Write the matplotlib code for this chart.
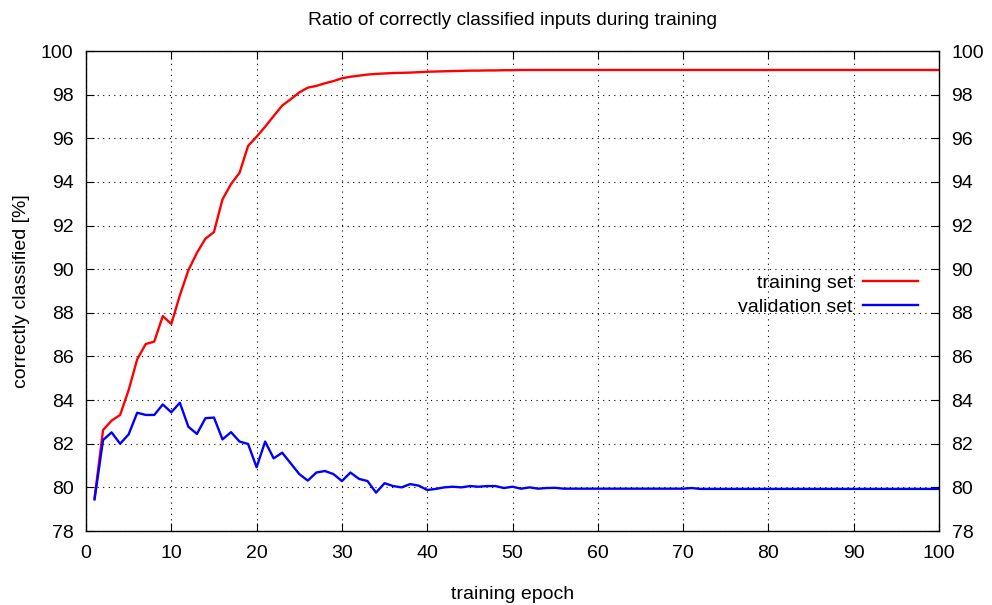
import numpy as np
import matplotlib
matplotlib.use('Agg')
import matplotlib.pyplot as plt

plt.rcParams['font.family'] = ['Liberation Sans', 'DejaVu Sans']

epochs = np.arange(1, 101)

# training set accuracy (%), epochs 1..40
train_head = [79.5, 82.63, 83.06, 83.32, 84.46, 85.87, 86.57, 86.68, 87.85, 87.49,
              88.8, 89.95, 90.75, 91.4, 91.7, 93.2, 93.9, 94.42, 95.65, 96.07,
              96.53, 97.02, 97.5, 97.79, 98.1, 98.32, 98.4, 98.52, 98.62, 98.75,
              98.82, 98.87, 98.92, 98.95, 98.97, 98.99, 99.0, 99.01, 99.03, 99.05]
train_tail = [99.06, 99.07, 99.08, 99.09, 99.1, 99.1, 99.11, 99.11, 99.12, 99.12] + [99.13] * 50
train = train_head + train_tail

# validation set accuracy (%)
valid_head = [79.45, 82.17, 82.52, 82.0, 82.43, 83.42, 83.32, 83.32, 83.8, 83.44,
              83.88, 82.78, 82.45, 83.17, 83.2, 82.2, 82.53, 82.1, 81.99, 80.92,
              82.1, 81.33, 81.59, 81.1, 80.61, 80.31, 80.68, 80.75, 80.61, 80.29,
              80.68, 80.39, 80.29, 79.76, 80.19, 80.06, 80.0, 80.15, 80.08, 79.88,
              79.93, 80.0, 80.03, 80.0, 80.06, 80.03, 80.06, 80.06, 79.97, 80.03,
              79.94, 80.0, 79.94, 79.97, 79.98, 79.94]
valid_tail = [79.94] * 14 + [79.97] + [79.93] * 29
valid = valid_head + valid_tail

fig = plt.figure(figsize=(9.92, 6.05), dpi=100)
ax = fig.add_axes([0.0867, 0.1223, 0.8599, 0.7934])

ax.plot(epochs, train, color='#ff0000', lw=1.7, label='training set')
ax.plot(epochs, valid, color='#0000ff', lw=1.7, label='validation set')

ax.set_xlim(0, 100)
ax.set_ylim(78, 100)
ax.set_xticks(np.arange(0, 101, 10))
ax.set_yticks(np.arange(78, 101, 2))
ax.grid(True, color='black', linestyle=(0, (1, 4)), linewidth=0.8)
ax.tick_params(direction='in', length=6, labelsize=14, top=True, right=True,
               labelright=True)
ax.tick_params(axis='x', pad=10)
ax.tick_params(axis='y', pad=9)
for s in ax.spines.values():
    s.set_linewidth(1.0)

ax.set_title('Ratio of correctly classified inputs during training', fontsize=13.8, pad=19)
ax.set_xlabel('training epoch', fontsize=14, labelpad=17)
ax.set_ylabel('correctly classified [%]', fontsize=14, labelpad=8)

ax.legend(loc='center right', bbox_to_anchor=(0.996, 0.492), frameon=False,
          markerfirst=False, handlelength=2.85, handletextpad=0.5,
          fontsize=14, labelspacing=0.32)

fig.savefig('out.png', dpi=100)
